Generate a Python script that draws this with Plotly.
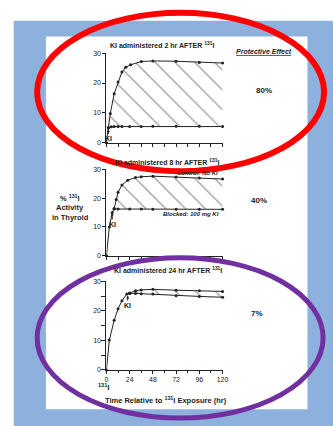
import plotly.graph_objects as go

W, H = 333, 426

# ---------------- data ----------------
# Panel 1: KI at 2 hr
rise1_t = [0, 2]
rise1_v = [0, 5.0]
ctrl1_t = [2, 4, 8, 12, 16, 20, 25, 36, 48, 72, 96, 120]
ctrl1_v = [5.0, 9.8, 16.4, 20.3, 23.7, 25.3, 26.1, 27.2, 27.4, 27.3, 26.9, 26.7]
blk1_t = [2, 5, 8, 12, 16, 24, 36, 48, 72, 96, 120]
blk1_v = [5.0, 5.3, 5.4, 5.4, 5.4, 5.4, 5.4, 5.5, 5.5, 5.5, 5.4]

# Panel 2: KI at 8 hr
rise2_t = [0, 3, 6, 8]
rise2_v = [0, 10.0, 15.0, 16.3]
ctrl2_t = [8, 10, 12, 16, 22, 30, 36, 48, 72, 96, 120]
ctrl2_v = [16.3, 19.5, 22.0, 24.5, 26.2, 27.1, 27.4, 27.6, 27.3, 27.0, 26.6]
blk2_t = [8, 12, 24, 36, 48, 72, 96, 120]
blk2_v = [16.3, 16.2, 16.2, 16.2, 16.1, 16.1, 16.1, 16.1]

# Panel 3: KI at 24 hr
rise3_t = [0, 3, 8, 12, 16, 21, 24]
rise3_v = [0, 10.1, 16.8, 20.7, 23.4, 25.7, 26.0]
ctrl3_t = [24, 30, 36, 48, 72, 96, 120]
ctrl3_v = [26.0, 26.8, 27.1, 27.3, 27.0, 26.8, 26.6]
blk3_t = [24, 30, 36, 48, 72, 96, 120]
blk3_v = [26.0, 25.9, 25.8, 25.7, 25.1, 24.9, 24.6]

titles = ["KI administered 2 hr AFTER <sup>131</sup>I",
          "KI administered 8 hr AFTER <sup>131</sup>I",
          "KI administered 24 hr AFTER <sup>131</sup>I"]
effects = ["80%", "40%", "7%"]
x_ticks = [0, 24, 48, 72, 96, 120]
y_ticks = [0, 10, 20, 30]


def px(x):
    return x / W


def py(y):
    return 1 - y / H


INK = "#222222"
FONT = "Liberation Sans"

fig = go.Figure()

panels = [
    (rise1_t, rise1_v, ctrl1_t, ctrl1_v, blk1_t, blk1_v),
    (rise2_t, rise2_v, ctrl2_t, ctrl2_v, blk2_t, blk2_v),
    (rise3_t, rise3_v, ctrl3_t, ctrl3_v, blk3_t, blk3_v),
]

for i, (rt, rv, ct, cv, bt, bv) in enumerate(panels):
    xa = "x" if i == 0 else f"x{i+1}"
    ya = "y" if i == 0 else f"y{i+1}"
    line = dict(color=INK, width=1)
    mk = dict(color=INK, size=3)
    fig.add_trace(go.Scatter(x=rt, y=rv, xaxis=xa, yaxis=ya, mode="lines+markers",
                             line=line, marker=mk, cliponaxis=False, showlegend=False))
    fig.add_trace(go.Scatter(x=bt, y=bv, xaxis=xa, yaxis=ya, mode="lines+markers",
                             line=line, marker=mk, cliponaxis=False, showlegend=False))
    fig.add_trace(go.Scatter(x=ct, y=cv, xaxis=xa, yaxis=ya, mode="lines+markers",
                             line=line, marker=mk, cliponaxis=False, showlegend=False,
                             fill="tonexty", fillcolor="rgba(0,0,0,0)",
                             fillpattern=dict(shape="\\", size=14, solidity=0.09,
                                              fgcolor="#3a3a3a", bgcolor="rgba(0,0,0,0)")))

ydoms = [(141, 50), (256, 168), (372, 282)]
axis_common = dict(showline=True, linecolor=INK, linewidth=1, ticks="outside",
                   ticklen=3, tickcolor=INK, tickwidth=1, showgrid=False, zeroline=False,
                   tickfont=dict(size=7, color=INK, family=FONT))
layout = {}
for i, (b, t) in enumerate(ydoms):
    sx = "" if i == 0 else str(i + 1)
    xa = dict(domain=[px(107), px(226)], range=[0, 120], anchor="y" + sx,
              showticklabels=(i == 2), **axis_common)
    if i < 2:
        xa.update(tickmode="linear", tick0=0, dtick=12)
    else:
        xa.update(tickvals=x_ticks, minor=dict(tickmode="linear", tick0=0, dtick=12,
                                                 ticks="outside", ticklen=2, tickcolor=INK))
    ya = dict(domain=[py(b), py(t)], range=[0, 30], anchor="x" + sx,
              tickvals=y_ticks, **axis_common)
    if i == 2:
        ya.update(minor=dict(tickmode="linear", tick0=0, dtick=5, ticks="outside",
                             ticklen=4, tickcolor=INK))
    layout["xaxis" + sx] = xa
    layout["yaxis" + sx] = ya

shapes = [
    dict(type="rect", xref="paper", yref="paper", x0=px(12), x1=px(340), y0=py(17), y1=py(430),
         fillcolor="#8eb0dc", line=dict(width=0), layer="below"),
    dict(type="rect", xref="paper", yref="paper", x0=px(45), x1=px(313), y0=py(33), y1=py(412),
         fillcolor="white", line=dict(width=0), layer="below"),
    dict(type="circle", xref="paper", yref="paper", x0=px(36), x1=px(330), y0=py(9), y1=py(170),
         line=dict(color="#ff0000", width=6), layer="above"),
    dict(type="circle", xref="paper", yref="paper", x0=px(36), x1=px(329), y0=py(258), y1=py(421),
         line=dict(color="#7030a0", width=5), layer="above"),
]

ann = []


def txt(x, y, s, size=7, bold=True, italic=False, xanchor="center"):
    t = s
    if bold:
        t = "<b>" + t + "</b>"
    if italic:
        t = "<i>" + t + "</i>"
    ann.append(dict(x=px(x), y=py(y), xref="paper", yref="paper", text=t, showarrow=False,
                    xanchor=xanchor, yanchor="middle",
                    font=dict(size=size, color=INK, family=FONT)))


txt(164, 42, titles[0])
txt(169, 161, titles[1])
txt(170, 270, titles[2])
txt(268, 48, "<u>Protective Effect</u>", size=7, italic=True)
txt(268, 88, effects[0], size=8)
txt(263, 200, effects[1], size=8)
txt(261, 315, effects[2], size=8)
txt(70, 197, "% <sup>131</sup>I", size=7.5)
txt(70, 207, "Activity", size=7.5)
txt(70, 217, "in Thyroid", size=7.5)
txt(168, 403, "Time Relative to <sup>131</sup>I Exposure (hr)", size=7.5)
txt(223, 171.5, "Control: No KI", size=6, italic=True, xanchor="right")
txt(224, 214, "Blocked: 100 mg KI", size=6, italic=True, xanchor="right")
txt(104, 389, "<sup>131</sup>I", size=8)

# KI arrows
ki = [("x", "y", 2, 4.6, 10), ("x2", "y2", 6, 15.0, 12), ("x3", "y3", 22, 25.2, 10)]
for xr, yr, x, y, ay in ki:
    ann.append(dict(x=x, y=y, xref=xr, yref=yr, text="<b>KI</b>", showarrow=True,
                    arrowhead=2, arrowsize=0.6, arrowwidth=1, arrowcolor=INK,
                    ax=0, ay=ay, standoff=0, font=dict(size=7, color=INK, family=FONT)))

fig.update_layout(width=W, height=H, margin=dict(l=0, r=0, t=0, b=0),
                  paper_bgcolor="white", plot_bgcolor="rgba(0,0,0,0)",
                  shapes=shapes, annotations=ann, showlegend=False, **layout)

fig.write_html("out.html", config={"displayModeBar": False},
               post_script="document.body.style.margin='0';document.body.style.overflow='hidden';")
